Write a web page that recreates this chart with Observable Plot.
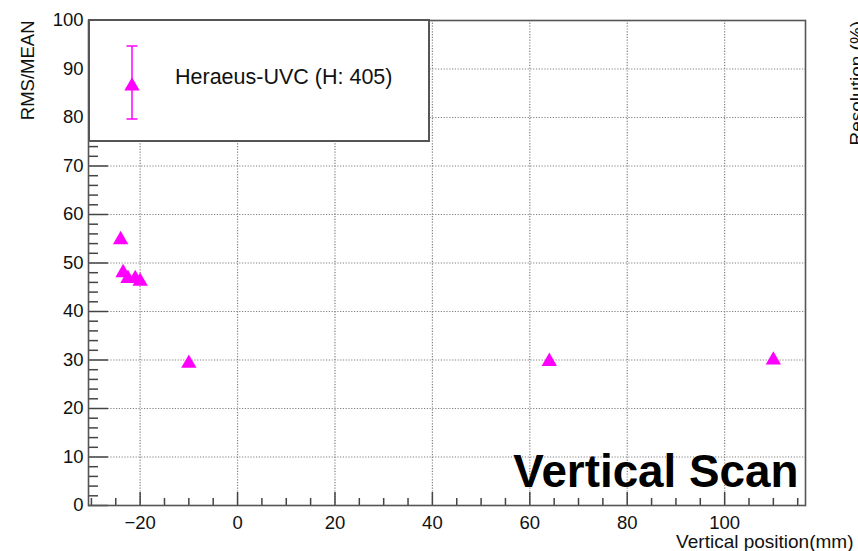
<!DOCTYPE html>
<html><head><meta charset="utf-8">
<script src="https://cdn.jsdelivr.net/npm/d3@7"></script>
<script src="https://cdn.jsdelivr.net/npm/@observablehq/plot@0.6"></script>
<style>
body{margin:0;background:#fff;}
#wrap{position:relative;width:858px;height:551px;overflow:hidden;font-family:"Liberation Sans",Arial,sans-serif;background:#fff;}
#legend{position:absolute;left:88px;top:19px;width:342px;height:123px;border:2px solid #555;background:#fff;box-sizing:border-box;}
#legend svg{position:absolute;left:0;top:0;}
#legend .lab{position:absolute;left:85px;top:44px;font-size:21.5px;color:#111;white-space:nowrap;}
</style></head><body><div id="wrap"><div id="legend"></div></div>
<script>
// ---- data ----
const seriesName = "Heraeus-UVC (H: 405)";
const xPos    = [-24, -23.5, -22.5, -21, -20, -10, 64, 110];
const rmsMean = [54.8, 48.0, 46.8, 46.8, 46.2, 29.3, 29.7, 30.0];
const xMajor = [-20, 0, 20, 40, 60, 80, 100];
const yMajor = [0, 10, 20, 30, 40, 50, 60, 70, 80, 90, 100];
const xMinor = d3.range(-30, 117, 5).filter(v => v % 20 !== 0);
const yMinor = d3.range(0, 101, 2).filter(v => v % 10 !== 0);
const xTitle = "Vertical position(mm)";
const yTitle = "RMS/MEAN";
const rightTitle = "Resolution (%)";
const stamp = "Vertical Scan";

const data = xPos.map((x, i) => ({x, y: rmsMean[i]}));

const W = 858, H = 551, mL = 88, mR = 53, mT = 20, mB = 46;
const iw = W - mL - mR, ih = H - mT - mB;
const axisCol = "#444";
const gridCol = "#808080";

const chart = Plot.plot({
  width: W, height: H,
  marginLeft: mL, marginRight: mR, marginTop: mT, marginBottom: mB,
  x: {domain: [-30.6, 116.6]},
  y: {domain: [0, 100]},
  style: {fontFamily: "Liberation Sans, Arial, sans-serif", fontSize: "18.5px", color: "#111", background: "#fff", overflow: "visible"},
  marks: [
    Plot.ruleX(xMajor, {stroke: gridCol, strokeWidth: 1.2, strokeDasharray: "1.2,1.6"}),
    Plot.ruleY(yMajor.filter(v => v > 0 && v < 100), {stroke: gridCol, strokeWidth: 1.2, strokeDasharray: "1.2,1.6"}),
    Plot.ruleX(xMinor, {stroke: axisCol, strokeWidth: 1.5, insetTop: ih - 7}),
    Plot.ruleX(xMajor, {stroke: axisCol, strokeWidth: 1.5, insetTop: ih - 13}),
    Plot.ruleY(yMinor, {stroke: axisCol, strokeWidth: 1.5, insetRight: iw - 10}),
    Plot.ruleY(yMajor, {stroke: axisCol, strokeWidth: 1.5, insetRight: iw - 20}),
    Plot.frame({stroke: "#555", strokeWidth: 1.6}),
    Plot.axisX(xMajor, {tickSize: 0, tickPadding: 10, label: null, tickFormat: d3.format("d"), fontSize: 18.5}),
    Plot.axisY(yMajor, {tickSize: 0, tickPadding: 5, label: null, fontSize: 18.5}),
    Plot.dot(data, {x: "x", y: "y", symbol: "triangle", r: 5.7, fill: "#ff00ff", stroke: "none"}),
    Plot.text([yTitle], {frameAnchor: "top-left", rotate: -90, textAnchor: "end", lineAnchor: "bottom", dx: -55, dy: 0, fontSize: 18.5, fill: "#111"}),
    Plot.text([xTitle], {frameAnchor: "bottom-right", textAnchor: "end", lineAnchor: "bottom", dx: 48, dy: 42, fontSize: 19, fill: "#111"}),
    Plot.text([rightTitle], {frameAnchor: "top-right", rotate: -90, textAnchor: "start", lineAnchor: "bottom", dx: 57, dy: 125, fontSize: 19, fill: "#111"}),
    Plot.text([stamp], {frameAnchor: "bottom-right", textAnchor: "end", lineAnchor: "bottom", dx: -7, dy: -19, fontSize: 45.8, fontWeight: "bold", fill: "#000"})
  ]
});
document.getElementById("wrap").prepend(chart);

// legend (ROOT style box)
const leg = document.getElementById("legend");
const lsvg = d3.create("svg").attr("width", 340).attr("height", 121);
const lcx = 42, lcy = 65, lTop = 25, lBot = 98;
lsvg.append("line").attr("x1", lcx).attr("x2", lcx).attr("y1", lTop).attr("y2", lBot).attr("stroke", "#ff00ff").attr("stroke-width", 1.5);
lsvg.append("line").attr("x1", lcx - 5.5).attr("x2", lcx + 5.5).attr("y1", lTop).attr("y2", lTop).attr("stroke", "#ff00ff").attr("stroke-width", 1.5);
lsvg.append("line").attr("x1", lcx - 5.5).attr("x2", lcx + 5.5).attr("y1", lBot).attr("y2", lBot).attr("stroke", "#ff00ff").attr("stroke-width", 1.5);
lsvg.append("path").attr("transform", `translate(${lcx},${lcy})`).attr("d", d3.symbol(d3.symbolTriangle, Math.PI * 5.7 * 5.7)()).attr("fill", "#ff00ff");
leg.appendChild(lsvg.node());
const lab = document.createElement("div");
lab.className = "lab"; lab.textContent = seriesName;
leg.appendChild(lab);
</script>
</body></html>
